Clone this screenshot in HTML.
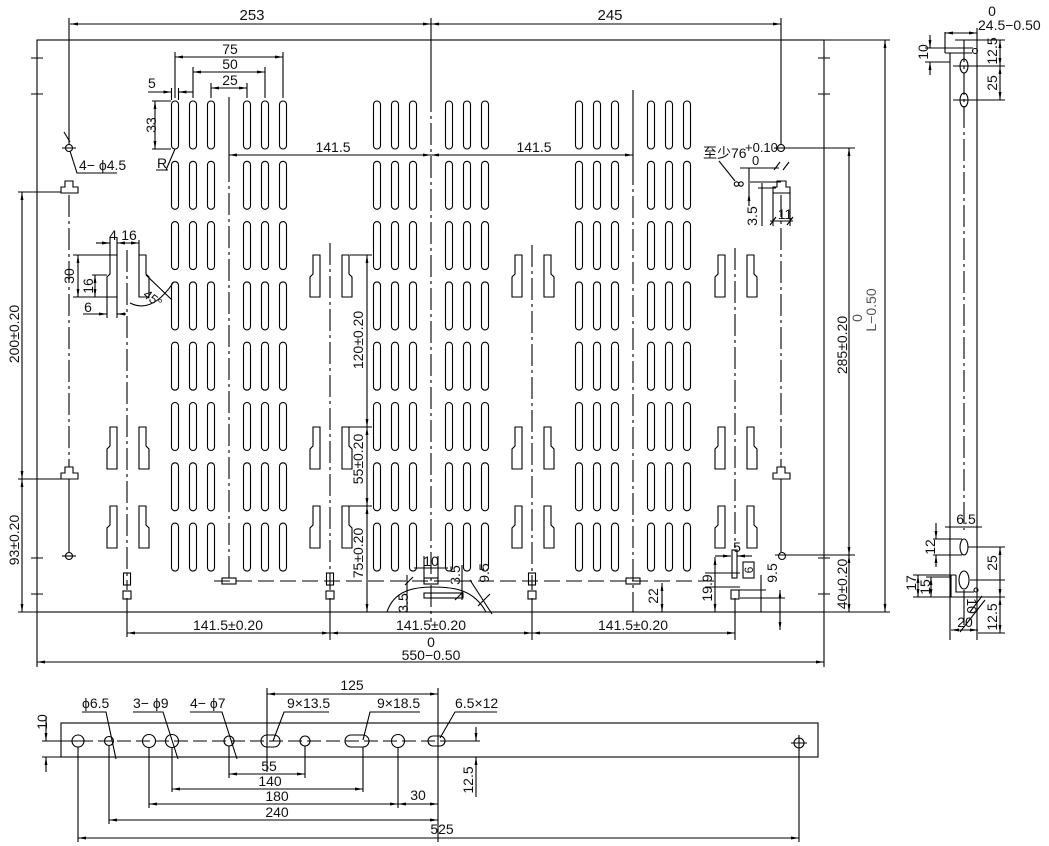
<!DOCTYPE html>
<html><head><meta charset="utf-8"><style>
html,body{margin:0;padding:0;background:#fff;}
svg{display:block;}
text{font-family:"Liberation Sans","Noto Sans CJK SC",sans-serif;font-size:14px;fill:#111;stroke:none;}
.dd{marker-start:url(#a);marker-end:url(#a);}
.de{marker-end:url(#a);}
.c{stroke-dasharray:22 4 3 4;}
.m{text-anchor:middle;}
</style></head><body>
<svg width="1049" height="846" viewBox="0 0 1049 846" xmlns="http://www.w3.org/2000/svg">
<defs>
<marker id="a" viewBox="0 0 10 10" refX="10" refY="5" markerWidth="8" markerHeight="8" markerUnits="userSpaceOnUse" orient="auto-start-reverse"><path d="M0,3.2 L10,5 L0,6.8 Z" fill="#000" stroke="none"/></marker>
<g id="col" fill="none" stroke="#000">
<rect x="-3.5" y="101" width="7" height="48" rx="3.5"/>
<rect x="-3.5" y="161.3" width="7" height="48" rx="3.5"/>
<rect x="-3.5" y="221.6" width="7" height="48" rx="3.5"/>
<rect x="-3.5" y="281.9" width="7" height="48" rx="3.5"/>
<rect x="-3.5" y="342.2" width="7" height="48" rx="3.5"/>
<rect x="-3.5" y="402.5" width="7" height="48" rx="3.5"/>
<rect x="-3.5" y="462.8" width="7" height="48" rx="3.5"/>
<rect x="-3.5" y="523.1" width="7" height="48" rx="3.5"/>
</g>
<g id="tabs" fill="none" stroke="#000"><path d="M-17,0 H-10 V42 H-20 V22 L-17,19 Z"/><path d="M12,0 H19 V19 L22,22 V42 H12 Z"/></g>
</defs>
<g stroke="#000" stroke-width="1.1" fill="none">
<use href="#col" x="175"/><use href="#col" x="193"/><use href="#col" x="211"/><use href="#col" x="247"/><use href="#col" x="265"/><use href="#col" x="283"/>
<use href="#col" x="377"/><use href="#col" x="395"/><use href="#col" x="413"/><use href="#col" x="449"/><use href="#col" x="467"/><use href="#col" x="485"/>
<use href="#col" x="579"/><use href="#col" x="597"/><use href="#col" x="615"/><use href="#col" x="651"/><use href="#col" x="669"/><use href="#col" x="687"/>
<use href="#tabs" x="127" y="255"/><use href="#tabs" x="127" y="427"/><use href="#tabs" x="127" y="506"/>
<use href="#tabs" x="330" y="255"/><use href="#tabs" x="330" y="427"/><use href="#tabs" x="330" y="506"/>
<use href="#tabs" x="532" y="255"/><use href="#tabs" x="532" y="427"/><use href="#tabs" x="532" y="506"/>
<use href="#tabs" x="735" y="255"/><use href="#tabs" x="735" y="427"/><use href="#tabs" x="735" y="506"/>

<rect x="37" y="40" width="787" height="572"/>
<path d="M37,612 V667 M824,612 V667 M18,612 H37 M824,612 H890 M824,40 H890"/>
<path d="M69,18 V145 M431,18 V90 M781,18 V145 M229,97 V160 M633,90 V163 M69,479 V552 M781,479 V552"/>
<path d="M127,598 V637 M330,598 V640 M532,598 V640 M735,598 V640"/>
<path class="c" d="M431,90 V622 M229,160 V578 M633,163 V612 M127,250 V590 M330,243 V590 M532,245 V590 M735,248 V548 M69,195 V467 M781,195 V467"/>
<path d="M31,58 H43 M31,94 H43 M31,558 H43 M31,594 H43 M818,58 H830 M818,94 H830 M818,558 H830 M818,594 H830"/>

<line class="dd" x1="70" y1="24" x2="431" y2="24"/>
<line class="dd" x1="431" y1="24" x2="781" y2="24"/>
<line class="dd" x1="229" y1="155" x2="431" y2="155"/>
<line class="dd" x1="431" y1="155" x2="633" y2="155"/>

<line class="dd" x1="175" y1="57" x2="283" y2="57"/>
<line class="dd" x1="193" y1="72" x2="265" y2="72"/>
<line class="dd" x1="211" y1="88" x2="247" y2="88"/>
<path d="M175,52 V98 M283,52 V98 M193,67 V98 M265,67 V98 M211,83 V98 M247,83 V98"/>
<path class="de" d="M148,92 H171.5"/><path class="de" d="M193,92 H178.5"/>
<path d="M171.5,88 V100 M178.5,88 V100"/>
<line class="dd" x1="155" y1="101" x2="155" y2="149"/>
<path d="M152,101 H171 M152,149 H171"/>
<path d="M175,149 L166,170 M156,170 H168"/>

<circle cx="69" cy="148" r="3.5"/><path d="M62,148 H76 M64,132 L70,142"/>
<path d="M70,151 L77,173 H117"/>
<path d="M61,193 H78 V187 H73 V181 H65 V187 H61 Z"/>
<path d="M61,479 H78 V473 H73 V467 H65 V473 H61 Z"/>
<circle cx="69" cy="556" r="3.5"/><path d="M62,556 H76"/>
<path d="M18,192 H61 M18,479 H61"/>
<line class="dd" x1="22" y1="192" x2="22" y2="479"/>
<line class="dd" x1="22" y1="479" x2="22" y2="612"/>

<path class="de" d="M96,243 H110"/>
<line class="dd" x1="117" y1="243" x2="139" y2="243"/>
<path d="M110,237 V255 M117,237 V255 M139,240 V255"/>
<line class="dd" x1="78" y1="255" x2="78" y2="297"/>
<line class="dd" x1="95" y1="275" x2="95" y2="297"/>
<path d="M73,255 H110 M92,275 H107 M73,297 H117"/>
<path class="de" d="M83,314 H107"/><path class="de" d="M126,314 H117"/>
<path d="M107,297 V318 M117,297 V318"/>
<path d="M146,275 L172,300 M130,303 Q152,314 173,283"/>

<path d="M350,255 H372 M345,427 H372 M345,506 H372"/>
<line class="dd" x1="367" y1="255" x2="367" y2="427"/>
<line class="dd" x1="367" y1="427" x2="367" y2="506"/>
<line class="dd" x1="367" y1="506" x2="367" y2="612"/>

<circle cx="781" cy="148" r="3.5"/><path d="M774,148 H855"/>
<path d="M773,479 H790 V473 H785 V467 H777 V473 H773 Z"/>
<circle cx="782" cy="556" r="3.5"/><path d="M775,555 H855"/>
<line class="dd" x1="849" y1="148" x2="849" y2="555"/>
<line class="dd" x1="849" y1="555" x2="849" y2="612"/>
<line class="dd" x1="885" y1="40" x2="885" y2="612"/>

<path d="M719,161 L735,181"/>
<circle cx="736.5" cy="184" r="2.2"/><circle cx="741" cy="184" r="2.2"/>
<path d="M740,168 H779 M750,182 H781 M758,188 H776 M762,183 V226 M773,192 V226 M790,192 V226 M770,221 H793 M770,225 L776,217 M787,225 L793,217 M774,170 L780,162 M783,170 L789,162"/>
<path class="de" d="M749,206 V193"/><path d="M749,168 V193"/>
<path d="M773,193 H790 V187 H786 V181 H777 V187 H773 Z"/>

<rect x="123.5" y="573" width="7" height="12"/><rect x="123" y="591" width="8" height="8"/>
<rect x="326.5" y="573" width="7" height="12"/><rect x="326" y="591" width="8" height="8"/>
<rect x="528.5" y="573" width="7" height="12"/><rect x="528" y="591" width="8" height="8"/>
<rect x="732" y="550" width="5" height="28"/><rect x="731" y="590" width="8" height="9"/>
<path stroke-dasharray="16 6" d="M214,581 H715"/>
<rect x="222" y="578" width="14" height="6"/>
<rect x="424" y="578" width="14" height="6"/>
<rect x="626" y="578" width="14" height="6"/>
<rect x="424" y="593" width="39" height="5"/>
<path d="M387,612 C394,590 415,587 433,587 C455,587 474,590 486,612"/>
<path d="M424,556 V578 M438,556 V578 M414,568 H448 M405,585 L413,577 M462,565 V600 M455,600 L463,592 M407,575 V612 M478,606 L490,594 M470,580 L492,614"/>
<line class="dd" x1="662" y1="583" x2="662" y2="612"/>
<path class="de" d="M715,556 H731"/><path class="de" d="M752,556 H737"/>
<rect x="743" y="562" width="11" height="16"/>
<path d="M761,575 V612 M705,573 H740 M705,587 H740 M739,590 H766 M740,598 H785"/>
<line class="dd" x1="780" y1="590" x2="780" y2="630"/>
<line class="dd" x1="715" y1="557" x2="715" y2="612"/>

<line class="dd" x1="127" y1="633" x2="330" y2="633"/>
<line class="dd" x1="330" y1="633" x2="532" y2="633"/>
<line class="dd" x1="532" y1="633" x2="735" y2="633"/>
<line class="dd" x1="37" y1="662" x2="824" y2="662"/>

<path d="M945,32 V53 M945,48 H973 M950,53 H972 M945,53 H950 M950,53 V640 M977,28 V640"/>
<circle cx="975" cy="51" r="2.5"/>
<line class="dd" x1="945" y1="33" x2="977" y2="33"/>
<path d="M925,48 H945 M925,62 H950"/>
<path class="de" d="M930,35 V48"/><path class="de" d="M930,75 V62"/>
<ellipse cx="964" cy="66" rx="4" ry="7"/><ellipse cx="964" cy="100" rx="4" ry="7"/>
<path d="M953,66 H1005 M953,100 H1005 M955,40 H1005"/>
<line class="dd" x1="1000" y1="40" x2="1000" y2="66"/>
<line class="dd" x1="1000" y1="66" x2="1000" y2="100"/>
<path class="c" d="M964,40 V530"/>
<ellipse cx="964" cy="547" rx="4" ry="8"/><ellipse cx="964" cy="580" rx="5" ry="9"/>
<path d="M964,590 V625"/>
<path d="M951,575 V597 H978 M956,575 V592 H974 M951,575 H956"/>
<circle cx="976" cy="590" r="2"/>
<path d="M945,527 H982 M933,539 H962 M933,555 H962 M968,547 H1005 M970,580 H1005 M978,597 H1005 M978,633 H1005 M913,575 H951 M926,577 H951 M913,597 H951"/>
<path class="de" d="M936,523 V539"/><path class="de" d="M936,567 V555"/>
<line class="dd" x1="1000" y1="547" x2="1000" y2="597"/>
<line class="dd" x1="1000" y1="597" x2="1000" y2="633"/>
<line class="dd" x1="918" y1="575" x2="918" y2="597"/>
<line class="dd" x1="931" y1="577" x2="931" y2="597"/>
<line class="dd" x1="951" y1="630" x2="978" y2="630"/>
<path d="M960,632 L985,600 M970,612 L982,596"/>

<rect x="61" y="723" width="757" height="34"/>
<path stroke-dasharray="14 5" d="M60,741 H480"/>
<circle cx="78" cy="741" r="6"/><path d="M70,741 H88"/>
<circle cx="109" cy="741" r="4.5"/>
<circle cx="149" cy="741" r="6.5"/><circle cx="172" cy="741" r="6.5"/>
<circle cx="229" cy="741" r="5"/>
<rect x="261" y="735" width="19" height="12" rx="6"/>
<circle cx="305" cy="741" r="5"/>
<rect x="345" y="735" width="24" height="12" rx="6"/>
<circle cx="398" cy="741" r="6.5"/>
<rect x="428" y="736" width="17" height="10" rx="5"/>
<circle cx="799" cy="743" r="5"/><path d="M791,743 H807 M799,735 V751"/>
<path d="M82,712 H106 L116,759 M133,712 H163 L178,759 M190,712 H222 L237,759 M329,712 H284 L273,741 M420,712 H370 L363,740 M497,712 H455 L440,738"/>
<line class="dd" x1="267" y1="694" x2="438" y2="694"/>
<path d="M42,741 H76 M42,757 H61"/>
<path class="de" d="M46,716 V741"/><path class="de" d="M46,772 V757"/>
<path d="M440,741 H480 M453,757 H480"/>
<path class="de" d="M476,727 V741"/><path class="de" d="M476,797 V757"/>
<line class="dd" x1="229" y1="774" x2="305" y2="774"/>
<line class="dd" x1="172" y1="789" x2="363" y2="789"/>
<line class="dd" x1="149" y1="804" x2="398" y2="804"/>
<line class="dd" x1="398" y1="804" x2="438" y2="804"/>
<line class="dd" x1="109" y1="820" x2="438" y2="820"/>
<line class="dd" x1="78" y1="838" x2="799" y2="838"/>
<path d="M78,747 V842 M109,746 V824 M149,748 V808 M172,748 V792 M229,746 V778 M305,746 V778 M363,747 V792 M398,748 V808 M438,688 V842 M799,749 V842 M267,688 V772"/>
</g>

<text class="m" x="252" y="20" style="font-size:15px">253</text>
<text class="m" x="610" y="20" style="font-size:15px">245</text>
<text class="m" x="230" y="54">75</text>
<text class="m" x="230" y="69">50</text>
<text class="m" x="230" y="85">25</text>
<text x="148" y="88">5</text>
<text class="m" transform="translate(156,125) rotate(-90)">33</text>
<text x="157" y="168">R</text>
<text x="79" y="170">4− ϕ4.5</text>
<text class="m" x="333" y="152">141.5</text>
<text class="m" x="534" y="152">141.5</text>
<text class="m" x="113" y="240">4</text>
<text class="m" x="129" y="240">16</text>
<text class="m" transform="translate(74,276) rotate(-90)">30</text>
<text class="m" transform="translate(93,286) rotate(-90)">16</text>
<text class="m" x="88" y="312">6</text>
<text class="m" transform="translate(150,302) rotate(38)" style="font-size:13px">45°</text>
<text class="m" transform="translate(19,334) rotate(-90)">200±0.20</text>
<text class="m" transform="translate(19,540) rotate(-90)">93±0.20</text>
<text class="m" transform="translate(363,340) rotate(-90)">120±0.20</text>
<text class="m" transform="translate(363,459) rotate(-90)">55±0.20</text>
<text class="m" transform="translate(363,553) rotate(-90)">75±0.20</text>
<text class="m" transform="translate(847,345) rotate(-90)">285±0.20</text>
<text class="m" transform="translate(847,584) rotate(-90)">40±0.20</text>
<text class="m" transform="translate(862,318) rotate(-90)" style="fill:#555">0</text>
<text class="m" transform="translate(876,310) rotate(-90)" style="fill:#555">L−0.50</text>
<text x="703" y="158">至少76</text>
<text x="745" y="152" style="font-size:13px">+0.10</text>
<text x="752" y="165" style="font-size:13px">0</text>
<text class="m" transform="translate(757,216) rotate(-90)">3.5</text>
<text class="m" x="785" y="219">11</text>
<text class="m" x="431" y="566">10</text>
<text class="m" transform="translate(460,575) rotate(-90)">3.5</text>
<text class="m" transform="translate(489,573) rotate(-90)">9.5</text>
<text class="m" transform="translate(408,603) rotate(-90)">3.5</text>
<text class="m" transform="translate(658,596) rotate(-90)">22</text>
<text class="m" x="737" y="552">5</text>
<text class="m" transform="translate(753,570) rotate(-90)" style="font-size:12px">6</text>
<text class="m" transform="translate(777,573) rotate(-90)">9.5</text>
<text class="m" transform="translate(712,588) rotate(-90)">19.9</text>
<text class="m" x="228" y="630">141.5±0.20</text>
<text class="m" x="431" y="630">141.5±0.20</text>
<text class="m" x="633" y="630">141.5±0.20</text>
<text class="m" x="431" y="647">0</text>
<text class="m" x="431" y="660">550−0.50</text>
<text x="978" y="30">24.5−0.50</text>
<text class="m" x="992" y="16">0</text>
<text class="m" transform="translate(928,52) rotate(-90)">10</text>
<text class="m" transform="translate(997,51) rotate(-90)">12.5</text>
<text class="m" transform="translate(997,83) rotate(-90)">25</text>
<text class="m" x="966" y="524">6.5</text>
<text class="m" transform="translate(935,547) rotate(-90)">12</text>
<text class="m" transform="translate(997,563) rotate(-90)">25</text>
<text class="m" transform="translate(997,617) rotate(-90)">12.5</text>
<text class="m" transform="translate(916,583) rotate(-90)">17</text>
<text class="m" transform="translate(930,587) rotate(-90)">15</text>
<text class="m" transform="translate(967,606) rotate(90)">10</text>
<text class="m" x="965" y="627">20</text>
<text x="82" y="708">ϕ6.5</text>
<text x="133" y="708">3− ϕ9</text>
<text x="190" y="708">4− ϕ7</text>
<text x="287" y="708">9×13.5</text>
<text x="377" y="708">9×18.5</text>
<text x="455" y="708">6.5×12</text>
<text class="m" x="352" y="690">125</text>
<text class="m" transform="translate(47,722) rotate(-90)">10</text>
<text class="m" transform="translate(473,780) rotate(-90)">12.5</text>
<text class="m" x="269" y="771">55</text>
<text class="m" x="270" y="786">140</text>
<text class="m" x="277" y="801">180</text>
<text class="m" x="418" y="800">30</text>
<text class="m" x="277" y="817">240</text>
<text class="m" x="442" y="834">525</text>
</svg>
</body></html>
